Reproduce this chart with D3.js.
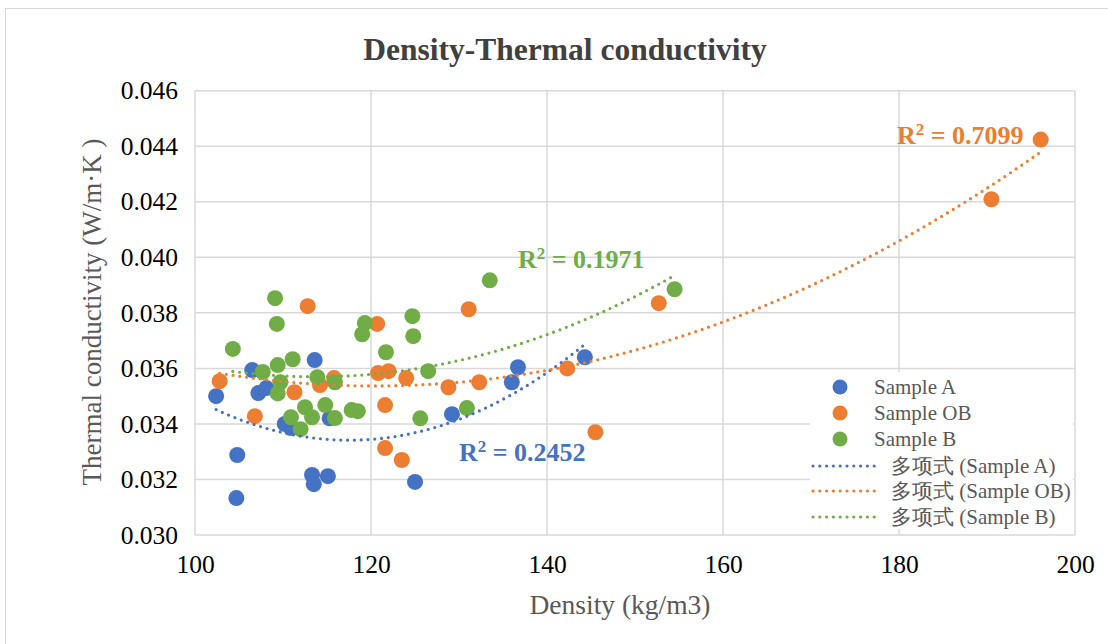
<!DOCTYPE html>
<html><head><meta charset="utf-8">
<script src="https://cdn.jsdelivr.net/npm/d3@7"></script>
<style>body{margin:0;background:#fff;} svg{display:block;}</style>
</head><body>
<svg id="c" width="1108" height="644"></svg>
<script>
const title = "Density-Thermal conductivity";
const xTitle = "Density (kg/m3)";
const yTitle = "Thermal conductivity (W/m·K )";
const xTicks = [100, 120, 140, 160, 180, 200];
const yTicks = [0.030, 0.032, 0.034, 0.036, 0.038, 0.040, 0.042, 0.044, 0.046];
const seriesNames = ["Sample A", "Sample OB", "Sample B"];
const trendNames = ["多项式 (Sample A)", "多项式 (Sample OB)", "多项式 (Sample B)"];
const r2Labels = ["R² = 0.2452", "R² = 0.7099", "R² = 0.1971"];
const colors = ["#4472C4", "#ED7D31", "#70AD47"];

const sampleA_x = [102.4,104.8,104.7,106.5,107.2,108.1,110.2,110.9,113.6,115.3,113.3,113.5,115.1,125.0,129.2,136.0,136.7,144.3];
const sampleA_y = [0.0350,0.03288,0.03133,0.03594,0.03511,0.03529,0.0340,0.03385,0.0363,0.0342,0.03216,0.03183,0.03212,0.03191,0.03435,0.0355,0.03604,0.0364];
const sampleOB_x = [102.8,106.8,111.3,112.8,114.2,115.8,120.7,120.8,121.6,121.6,122.0,123.5,124.0,128.8,131.1,132.3,142.3,145.5,152.7,190.5,196.1];
const sampleOB_y = [0.03554,0.03428,0.03514,0.03824,0.0354,0.03565,0.0376,0.03583,0.03468,0.03313,0.0359,0.0327,0.03565,0.03532,0.03813,0.0355,0.0360,0.0337,0.03835,0.04209,0.04424];
const sampleB_x = [104.3,107.7,109.1,109.3,109.4,109.7,109.4,110.9,111.1,112.0,112.5,113.3,113.9,114.8,115.9,115.9,117.8,118.5,119.0,119.3,121.7,124.7,124.8,125.6,126.5,130.9,133.5,154.5];
const sampleB_y = [0.0367,0.03587,0.03853,0.0376,0.03612,0.0355,0.0351,0.03424,0.03633,0.03381,0.0346,0.03424,0.03568,0.03468,0.0355,0.03421,0.0345,0.03446,0.03723,0.03763,0.03658,0.03788,0.03716,0.0342,0.0359,0.03457,0.03917,0.03885];

const xs = [sampleA_x, sampleOB_x, sampleB_x];
const ys = [sampleA_y, sampleOB_y, sampleB_y];

const svg = d3.select("#c");
const FONT = "'Liberation Serif','Times New Roman',serif";

const x = d3.scaleLinear().domain([100, 200]).range([195, 1075]);
const y = d3.scaleLinear().domain([0.030, 0.046]).range([535, 90.7]);

// outer border
svg.append("rect").attr("x", 5.5).attr("y", 8.5).attr("width", 1110).attr("height", 640)
  .attr("fill", "#fff").attr("stroke", "#d9d9d9").attr("stroke-width", 1);

// title
svg.append("text").attr("x", 565).attr("y", 60).attr("text-anchor", "middle")
  .attr("font-family", FONT).attr("font-weight", "bold").attr("font-size", 31.5)
  .attr("fill", "#404040").text(title);

// gridlines
const g = svg.append("g");
g.selectAll("line.h").data(yTicks).join("line").attr("class", "h")
  .attr("x1", x(100)).attr("x2", x(200)).attr("y1", d => y(d)).attr("y2", d => y(d))
  .attr("stroke", "#d9d9d9").attr("stroke-width", 1.5);
g.selectAll("line.v").data(xTicks).join("line").attr("class", "v")
  .attr("y1", y(0.030)).attr("y2", y(0.046)).attr("x1", d => x(d)).attr("x2", d => x(d))
  .attr("stroke", "#d9d9d9").attr("stroke-width", 1.5);

// axes (labels only)
const yAxis = svg.append("g").attr("transform", `translate(${x(100)},0)`)
  .call(d3.axisLeft(y).tickValues(yTicks).tickFormat(d3.format(".3f")).tickSize(0).tickPadding(17));
yAxis.select(".domain").remove();
yAxis.selectAll("text").attr("font-family", FONT).attr("font-size", 25.5).attr("fill", "#000");

const xAxis = svg.append("g").attr("transform", `translate(0,${y(0.030)})`)
  .call(d3.axisBottom(x).tickValues(xTicks).tickFormat(d3.format("d")).tickSize(0).tickPadding(20));
xAxis.select(".domain").remove();
xAxis.selectAll("text").attr("font-family", FONT).attr("font-size", 25.5).attr("fill", "#000");

// axis titles
svg.append("text").attr("x", 620).attr("y", 614).attr("text-anchor", "middle")
  .attr("font-family", FONT).attr("font-size", 27.5).attr("fill", "#595959").text(xTitle);
svg.append("text").attr("transform", "translate(101,312) rotate(-90)").attr("text-anchor", "middle")
  .attr("font-family", FONT).attr("font-size", 27).attr("fill", "#595959").text(yTitle);

// markers
for (let s = 0; s < 3; s++) {
  const pts = xs[s].map((v, i) => [v, ys[s][i]]);
  svg.append("g").selectAll("circle").data(pts).join("circle")
    .attr("cx", d => x(d[0])).attr("cy", d => y(d[1])).attr("r", 8)
    .attr("fill", colors[s]);
}

// quadratic least-squares trendlines
function quadFit(X, Y) {
  const n = X.length; const m = d3.mean(X);
  let S = [[0,0,0],[0,0,0],[0,0,0]], B = [0,0,0];
  for (let i = 0; i < n; i++) {
    const t = X[i] - m; const p = [1, t, t*t];
    for (let a = 0; a < 3; a++) { B[a] += p[a]*Y[i]; for (let b = 0; b < 3; b++) S[a][b] += p[a]*p[b]; }
  }
  const A = S.map((r, i) => r.concat([B[i]]));
  for (let c = 0; c < 3; c++) {
    let piv = c; for (let r = c+1; r < 3; r++) if (Math.abs(A[r][c]) > Math.abs(A[piv][c])) piv = r;
    [A[c], A[piv]] = [A[piv], A[c]];
    for (let r = 0; r < 3; r++) if (r !== c) { const f = A[r][c]/A[c][c]; for (let k = c; k < 4; k++) A[r][k] -= f*A[c][k]; }
  }
  const co = A.map((r, i) => r[3]/r[i]);
  return v => co[0] + co[1]*(v-m) + co[2]*(v-m)*(v-m);
}
const line = d3.line().x(d => x(d[0])).y(d => y(d[1]));
for (let s = 0; s < 3; s++) {
  const f = quadFit(xs[s], ys[s]);
  const [lo, hi] = d3.extent(xs[s]);
  const pts = d3.range(0, 101).map(k => { const v = lo + (hi-lo)*k/100; return [v, f(v)]; });
  svg.append("path").attr("d", line(pts)).attr("fill", "none").attr("stroke", colors[s])
    .attr("stroke-width", 3.2).attr("stroke-linecap", "round").attr("stroke-dasharray", "0 6.8");
}

// R² labels
const r2Pos = [[459, 461], [897, 144], [518, 268]];
r2Labels.forEach((t, i) => {
  const parts = t.split("²");
  const tx = svg.append("text").attr("x", r2Pos[i][0]).attr("y", r2Pos[i][1])
    .attr("font-family", FONT).attr("font-weight", "bold").attr("font-size", 26).attr("fill", colors[i]);
  tx.append("tspan").text(parts[0]);
  tx.append("tspan").attr("font-size", 17).attr("dy", -9).text("2");
  tx.append("tspan").attr("dy", 9).text(parts[1]);
});

// legend
const lg = svg.append("g");
lg.append("rect").attr("x", 810).attr("y", 372).attr("width", 263).attr("height", 157).attr("fill", "#fff");
const rowsY = [387, 413, 439, 466, 491, 517];
seriesNames.forEach((n, i) => {
  lg.append("circle").attr("cx", 840).attr("cy", rowsY[i]).attr("r", 7.5).attr("fill", colors[i]);
  lg.append("text").attr("x", 874).attr("y", rowsY[i] + 7).attr("font-family", FONT).attr("font-size", 21)
    .attr("fill", "#595959").text(n);
});
trendNames.forEach((n, i) => {
  const yy = rowsY[i + 3];
  lg.append("line").attr("x1", 813).attr("x2", 878).attr("y1", yy).attr("y2", yy)
    .attr("stroke", colors[i]).attr("stroke-width", 3.2).attr("stroke-linecap", "round").attr("stroke-dasharray", "0 6.8");
  lg.append("text").attr("x", 891).attr("y", yy + 7).attr("font-family", FONT).attr("font-size", 21)
    .attr("fill", "#595959").text(n);
});
</script>
</body></html>
